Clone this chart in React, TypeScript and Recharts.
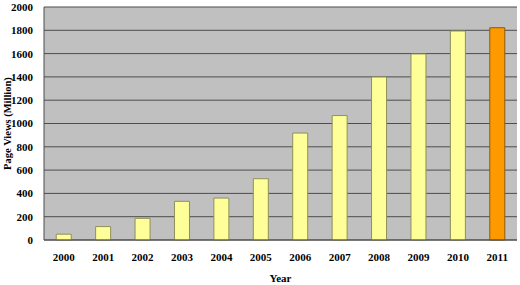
import { BarChart, Bar, XAxis, YAxis, CartesianGrid, Cell } from "recharts";

const years = ["2000", "2001", "2002", "2003", "2004", "2005", "2006", "2007", "2008", "2009", "2010", "2011"];
const pageViews = [50, 115, 186, 332, 360, 526, 918, 1068, 1399, 1597, 1794, 1822];
const yTicks = [0, 200, 400, 600, 800, 1000, 1200, 1400, 1600, 1800, 2000];

const data = years.map((year, i) => ({ year, views: pageViews[i] }));

const font = "'Liberation Serif', 'Times New Roman', serif";

export default function App() {
  return (
    <div style={{ position: "absolute", left: 0, top: 0, width: 520, height: 285, background: "#fff" }}>
      <BarChart
        width={520}
        height={285}
        data={data}
        margin={{ top: 7, right: 3, bottom: 0, left: 0 }}
        barCategoryGap="31%"
      >
        <CartesianGrid vertical={false} fill="#c0c0c0" stroke="#4d4d4d" strokeWidth={1} />
        <XAxis
          dataKey="year"
          height={45}
          axisLine={{ stroke: "#4d4d4d" }}
          tickLine={false}
          tick={{ fill: "#000", fontSize: 11, fontWeight: "bold", fontFamily: font }}
          tickMargin={7}
          label={{
            value: "Year",
            position: "insideBottom",
            offset: 3,
            fill: "#000",
            fontSize: 11,
            fontWeight: "bold",
            fontFamily: font,
          }}
        />
        <YAxis
          width={44}
          domain={[0, 2000]}
          ticks={yTicks}
          interval={0}
          axisLine={{ stroke: "#4d4d4d" }}
          tickLine={false}
          tickMargin={5}
          tick={{ fill: "#000", fontSize: 11, fontWeight: "bold", fontFamily: font }}
          label={{
            value: "Page Views (Million)",
            angle: -90,
            position: "insideLeft",
            offset: 7,
            style: { textAnchor: "middle" },
            fill: "#000",
            fontSize: 10.5,
            fontWeight: "bold",
            fontFamily: font,
          }}
        />
        <Bar dataKey="views" isAnimationActive={false} stroke="#8f8f5a" strokeWidth={1}>
          {data.map((d, i) => (
            <Cell
              key={d.year}
              fill={i === data.length - 1 ? "#ff9900" : "#ffff99"}
              stroke={i === data.length - 1 ? "#8a5a10" : "#8f8f5a"}
            />
          ))}
        </Bar>
      </BarChart>
    </div>
  );
}
